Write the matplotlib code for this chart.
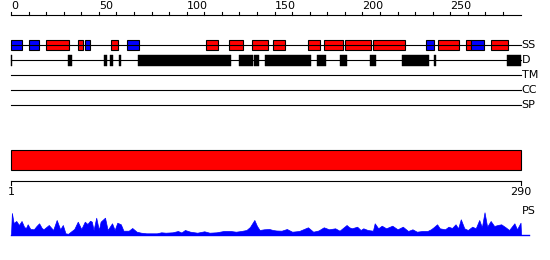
import matplotlib.pyplot as plt
from matplotlib.patches import Rectangle

# sequence length and track data (residue positions)
seq_len = 290

helix_start = [20, 38, 57, 111, 124, 137, 149, 169, 178, 190, 206, 243, 259, 273]
helix_end = [33, 41, 61, 118, 132, 146, 156, 176, 189, 205, 224, 255, 262, 283]

strand_start = [0, 10, 42, 66, 236, 262]
strand_end = [6, 16, 45, 73, 241, 269]

dis_start = [0, 32.5, 53, 56.5, 61.5, 72, 130, 138.5, 144.5, 174, 187.5, 204.5, 222.5, 240.5, 282.5]
dis_end = [0.7, 35, 54.5, 58, 62.5, 125, 137.5, 141, 171, 179, 191, 207.5, 238, 242, 290]

track_names = ["SS", "D", "TM", "CC", "SP"]

# PS profile: residue position and height
ps_pos = [0, 0.5, 1.5, 3, 4.5, 6, 7.5, 8.5, 9.5, 11, 13, 14.5, 16, 17.5, 18.5, 21.5, 24, 26,
          28, 29.5, 31, 32.5, 34, 36, 38, 40, 42, 43.5, 45, 46, 47, 48.5, 50, 51, 53.5, 55,
          57.5, 59, 60.5, 62.5, 64, 67, 69, 71.5, 74, 77, 80, 83, 85.5, 88, 92, 95, 97, 99,
          102, 106, 110, 113, 117, 121, 125, 128, 131, 134, 136, 138.5, 140, 141.5, 144,
          147, 149, 151, 154, 157, 160, 164, 169, 172, 175, 178, 181, 184.5, 187, 191,
          192.5, 194, 197, 199, 200.5, 203, 206, 207, 209, 211, 213.5, 217, 220, 223, 226,
          228.5, 231, 234, 237, 239, 240.5, 242.5, 244, 247, 249, 251, 253, 254.5, 256,
          258, 260, 262.5, 264.5, 266.5, 268, 269.5, 271, 273, 275, 277, 279, 281.5, 283.5,
          286.5, 288, 290, 290.3]
ps_val = [0, 22, 12, 14, 10, 14, 8, 7, 10.7, 6, 5.7, 9, 11.7, 7, 5.7, 10, 5, 15,
          5.7, 10, 1.7, 1.2, 3.3, 6, 13.3, 6, 13.3, 11, 14.3, 13.3, 5, 17.3, 5, 13.3, 17.3, 5,
          11.7, 5, 12.3, 10.7, 4.3, 4.3, 7, 3.3, 2.3, 1.7, 1.7, 1.7, 2.7, 2.3, 2.7, 4, 2.5, 5,
          3.3, 2.3, 3.7, 2.3, 2.7, 4, 4, 3.3, 4, 5, 8, 15, 9, 5, 5.7,
          6, 5, 4.5, 4.3, 6, 3.3, 4, 7.7, 3.3, 4.5, 7.7, 5.7, 6.7, 4.3, 10,
          7.7, 6.7, 8.3, 5, 6.7, 5, 4.3, 11.7, 6.7, 9.3, 6.7, 9.3, 5.7, 8.3, 4,
          5.7, 3.3, 4, 4, 5.7, 7.7, 10.7, 6.7, 5.7, 8.3, 7, 10.7, 6.7, 15.7,
          6.7, 5, 8.3, 6.7, 15, 7.7, 22.7, 8.3, 14, 9, 10, 10.7, 7.7, 5,
          11.7, 5.7, 12.3, 0]

# layout in pixels
px = 1.757
left = 11
ruler_y = 15
track_y = [45, 60, 75, 90, 105]
bar_top, bar_h = 150, 20
axis_y = 181
ps_base = 235

fig = plt.figure(figsize=(5.5, 2.6), dpi=100)
ax = fig.add_axes([0, 0, 1, 1])
ax.set_xlim(-left / px, (550 - left) / px)
ax.set_ylim(260, 0)
ax.axis('off')

lw = 0.8
fs = 8

# top ruler
ax.plot([0, seq_len + 0.5], [ruler_y, ruler_y], color='black', lw=lw)
for t in range(0, seq_len, 10):
    ax.plot([t, t], [ruler_y, ruler_y - 3.5], color='black', lw=lw)
    if t % 50 == 0:
        ax.text(t, ruler_y - 4, str(t), ha='left', va='bottom', fontsize=fs)

# track lines and labels
for name, y in zip(track_names, track_y):
    ax.plot([0, seq_len], [y, y], color='black', lw=lw)
    ax.text(seq_len + 0.6, y, name, ha='left', va='center', fontsize=fs)

# secondary structure
for s, e in zip(helix_start, helix_end):
    ax.add_patch(Rectangle((s, track_y[0] - 5), e - s, 10, facecolor='#ff0000',
                           edgecolor='black', lw=lw))
for s, e in zip(strand_start, strand_end):
    ax.add_patch(Rectangle((s, track_y[0] - 5), e - s, 10, facecolor='#0000ff',
                           edgecolor='black', lw=lw))

# disorder
for s, e in zip(dis_start, dis_end):
    ax.add_patch(Rectangle((s, track_y[1] - 5), e - s, 10.5, facecolor='black',
                           edgecolor='black', lw=0.3))

# domain bar
ax.add_patch(Rectangle((0, bar_top), seq_len, bar_h, facecolor='#ff0000',
                       edgecolor='black', lw=lw))

# bottom axis
ax.plot([0, seq_len], [axis_y, axis_y], color='black', lw=lw)
for t in [0, seq_len]:
    ax.plot([t, t], [axis_y, axis_y + 4], color='black', lw=lw)
ax.text(0, axis_y + 6, "1", ha='center', va='top', fontsize=fs)
ax.text(seq_len, axis_y + 6, str(seq_len), ha='center', va='top', fontsize=fs)

# PS profile
ps_y = [ps_base - v for v in ps_val]
ax.fill_between(ps_pos, ps_base, ps_y, color='#0000ff', lw=0.5)
ax.plot([0, seq_len + 5], [ps_base, ps_base], color='#0000ff', lw=1)
ax.text(seq_len + 0.6, 211, "PS", ha='left', va='center', fontsize=fs)

fig.savefig('out.png', dpi=100)
